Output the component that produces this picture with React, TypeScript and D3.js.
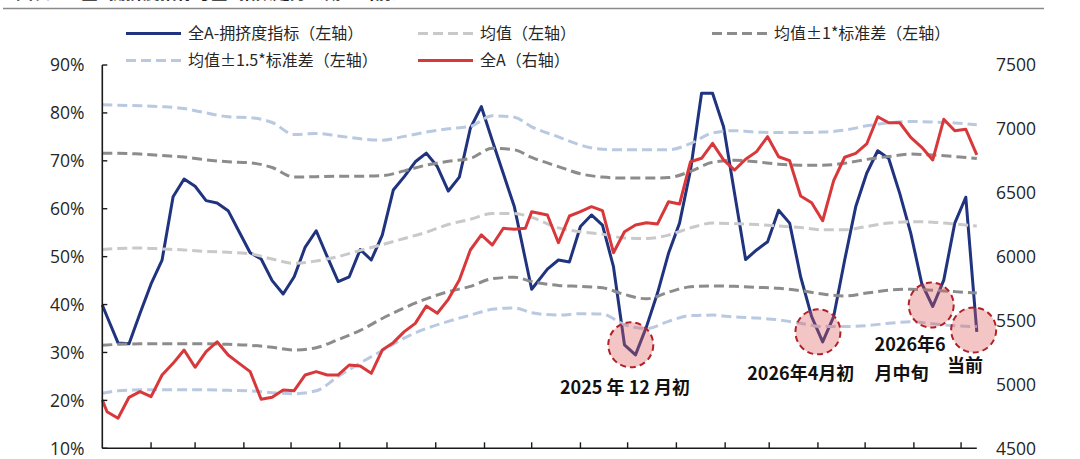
import React from "react";
import * as d3 from "d3";

// ---------- data ----------
const dates = [
  "2024-12-31","2025-01-03","2025-01-10","2025-01-17","2025-01-24","2025-01-31","2025-02-07","2025-02-14","2025-02-21","2025-02-28",
  "2025-03-07","2025-03-14","2025-03-21","2025-03-28","2025-04-04","2025-04-11","2025-04-18","2025-04-25","2025-05-02","2025-05-09",
  "2025-05-16","2025-05-23","2025-05-30","2025-06-06","2025-06-13","2025-06-20","2025-06-27","2025-07-04","2025-07-11","2025-07-18",
  "2025-07-25","2025-08-01","2025-08-08","2025-08-15","2025-08-22","2025-08-29","2025-09-05","2025-09-12","2025-09-19","2025-09-26",
  "2025-09-30","2025-10-10","2025-10-17","2025-10-24","2025-10-31","2025-11-07","2025-11-14","2025-11-21","2025-11-28","2025-12-05",
  "2025-12-12","2025-12-19","2025-12-26","2026-01-02","2026-01-09","2026-01-16","2026-01-23","2026-01-30","2026-02-06","2026-02-13",
  "2026-02-20","2026-02-27","2026-03-06","2026-03-13","2026-03-20","2026-03-27","2026-04-03","2026-04-10","2026-04-17","2026-04-24",
  "2026-05-01","2026-05-08","2026-05-15","2026-05-22","2026-05-29","2026-06-05","2026-06-12","2026-06-19","2026-06-26","2026-07-03",
  "2026-07-10",
];

// 全A-拥挤度指标 (%), left axis
const crowding = [
  39.9,37.5,32.0,31.8,38.2,44.3,49.3,62.5,66.2,64.7,
  61.7,61.2,59.6,55.2,50.8,49.5,45.0,42.2,45.8,52.0,
  55.4,50.0,44.8,45.8,51.5,49.3,54.5,63.9,66.7,69.8,
  71.6,68.8,63.7,66.6,76.8,81.3,74.2,67.3,60.4,49.4,
  43.2,47.4,49.3,48.9,56.3,58.7,56.6,47.9,31.6,29.5,
  35.4,42.4,50.7,57.0,68.1,84.1,84.1,77.1,63.2,49.4,
  51.4,53.1,59.7,57.0,45.8,37.5,32.2,37.5,49.3,60.4,
  67.4,72.1,70.5,63.2,54.9,44.4,39.6,45.1,57.0,62.4,
  34.3,
];

// 全A index, right axis
const indexA = [
  4878,4786,4735,4899,4943,4904,5074,5165,5269,5134,
  5256,5334,5230,5165,5100,4884,4899,4956,4951,5074,
  5100,5074,5074,5152,5144,5087,5269,5327,5413,5478,
  5614,5557,5666,5817,6052,6170,6091,6222,6214,6222,
  6352,6326,6109,6318,6352,6391,6360,6031,6195,6248,
  6266,6256,6430,6412,6743,6770,6887,6757,6678,6762,
  6822,6939,6782,6751,6475,6422,6281,6595,6778,6809,
  6882,7095,7048,7048,6934,6856,6757,7075,6986,6997,
  6796,
];

// band knots (every second date)
const bandDates = dates.filter((_, i) => i % 2 === 0);
const meanLine = [
  51.5,51.7,51.8,51.6,51.4,51.1,50.9,50.6,49.5,48.6,
  49.1,50.0,51.3,52.5,53.8,55.1,56.7,57.8,59.0,59.0,
  58.2,56.0,55.2,54.7,53.9,53.8,54.5,56.0,57.0,56.9,
  56.7,56.4,56.1,55.6,55.6,56.3,57.0,57.3,57.2,56.8,
  56.4,
];
const upper1 = [
  71.6,71.6,71.4,71.1,70.8,70.2,69.8,69.6,68.6,66.6,
  66.7,66.8,66.8,66.9,67.9,69.1,69.9,70.5,72.6,72.3,
  70.7,68.8,67.3,66.6,66.4,66.4,66.5,67.8,69.7,70.1,
  69.8,69.3,69.1,69.1,69.5,70.3,70.9,71.4,71.2,70.9,
  70.5,
];
const lower1 = [
  31.5,31.7,31.8,31.8,31.8,31.8,31.7,31.5,31.1,30.5,
  31.0,32.7,34.6,37.1,39.3,41.2,42.7,43.8,45.4,45.7,
  44.8,44.0,43.8,43.5,42.1,41.2,42.6,43.7,43.9,43.8,
  43.6,43.4,42.9,42.2,41.8,42.4,43.0,43.2,43.0,42.7,
  42.4,
];
const upper15 = [
  81.7,81.6,81.5,81.3,80.9,80.0,79.2,79.0,78.0,75.5,
  75.7,75.2,74.6,74.3,75.1,76.0,76.7,77.2,79.4,79.1,
  77.1,75.0,73.3,72.4,72.3,72.3,72.3,73.6,75.8,76.3,
  76.0,75.9,75.9,76.0,76.4,77.3,77.9,78.2,78.1,77.9,
  77.5,
];
const lower15 = [
  21.5,22.0,22.2,22.2,22.2,22.2,22.1,22.0,21.6,21.4,
  22.0,25.0,27.8,30.4,33.0,35.0,36.5,37.8,39.0,39.3,
  38.3,37.8,38.1,38.0,35.8,35.0,36.5,37.7,37.8,37.4,
  37.2,36.8,36.1,35.4,35.4,35.6,36.1,36.4,36.0,35.6,
  35.4,
];

const xTickDates = [
  "2025-01-31","2025-02-28","2025-03-31","2025-04-30","2025-05-31","2025-06-30",
  "2025-07-31","2025-08-31","2025-09-30","2025-10-31","2025-11-30","2025-12-31",
  "2026-01-31","2026-02-28","2026-03-31","2026-04-30","2026-05-31","2026-06-30",
];
const leftTicks = [10, 20, 30, 40, 50, 60, 70, 80, 90];
const rightTicks = [4500, 5000, 5500, 6000, 6500, 7000, 7500];

// highlighted lows
const circleDates = ["2025-12-02", "2026-03-31", "2026-06-11", "2026-07-08"];
const circleValues = [31.6, 34.3, 39.9, 34.7];

// annotation labels (anchor date / left-axis value of baseline)
const noteTexts = ["2025 年 12 月初", "2026年4月初", "2026年6", "月中旬", "当前"];
const noteDates = ["2025-10-18", "2026-02-14", "2026-05-06", "2026-05-06", "2026-06-21"];
const noteValues = [21.4, 24.3, 30.3, 24.3, 25.9];

const legendItems = [
  { label: "全A-拥挤度指标（左轴）", color: "#1F337F", dash: "", row: 0, col: 0 },
  { label: "均值（左轴）", color: "#C9C9C9", dash: "10,5", row: 0, col: 1 },
  { label: "均值±1*标准差（左轴）", color: "#8C8C8C", dash: "10,5", row: 0, col: 2 },
  { label: "均值±1.5*标准差（左轴）", color: "#B9C9E2", dash: "10,5", row: 1, col: 0 },
  { label: "全A（右轴）", color: "#D9383A", dash: "", row: 1, col: 1 },
];

// ---------- chart ----------
const W = 1080;
const H = 459;
const parse = d3.timeParse("%Y-%m-%d");
const CJK = "'Noto Sans CJK SC', 'Noto Sans', sans-serif";
const NUM = "'Open Sans', 'Noto Sans', sans-serif";

export default function App() {
  const dts = dates.map((d) => parse(d) as Date);
  const bds = bandDates.map((d) => parse(d) as Date);

  const x = d3.scaleTime().domain([dts[0], dts[dts.length - 1]]).range([102.3, 976.8]);
  const yL = d3.scaleLinear().domain([10, 90]).range([448.3, 65]);
  const yR = d3.scaleLinear().domain([4500, 7500]).range([448.3, 65]);

  const lineL = d3
    .line<[Date, number]>()
    .x((d) => x(d[0]))
    .y((d) => yL(d[1]));
  const lineR = d3
    .line<[Date, number]>()
    .x((d) => x(d[0]))
    .y((d) => yR(d[1]));
  const smoothL = d3
    .line<[Date, number]>()
    .x((d) => x(d[0]))
    .y((d) => yL(d[1]))
    .curve(d3.curveMonotoneX);

  const zip = (ds: Date[], vs: number[]) => ds.map((d, i) => [d, vs[i]] as [Date, number]);

  const bands = [
    { vals: meanLine, color: "#C9C9C9" },
    { vals: upper1, color: "#8C8C8C" },
    { vals: lower1, color: "#8C8C8C" },
    { vals: upper15, color: "#B9C9E2" },
    { vals: lower15, color: "#B9C9E2" },
  ];

  const pct = d3.format(".0f");
  const x0 = x.range()[0];
  const x1 = x.range()[1];
  const yBottom = yL(10);
  const yTop = yL(90);

  const legX = [126, 418, 712];
  const legY = [33.5, 60.5];

  return (
    <svg
      width={W}
      height={H}
      viewBox={`0 0 ${W} ${H}`}
      style={{ position: "absolute", left: 0, top: 0, background: "#fff", display: "block" }}
    >
      <rect x={0} y={0} width={W} height={H} fill="#ffffff" />

      {/* title (cropped at the top edge in the source) + header rule */}
      <text x={16} y={-1} fontFamily={CJK} fontSize={17} fontWeight={700} fill="#222">
        图表 1：全A拥挤度指标与全A指数走势（截至当前）
      </text>
      <line x1={3} x2={1044} y1={8.5} y2={8.5} stroke="#8a8a8a" strokeWidth={1.6} />

      {/* legend */}
      {legendItems.map((it, i) => (
        <g key={i} transform={`translate(${legX[it.col]},${legY[it.row]})`}>
          <line
            x1={0}
            x2={55}
            y1={0}
            y2={0}
            stroke={it.color}
            strokeWidth={3}
            strokeDasharray={it.dash || undefined}
          />
          <text x={62} y={0} dy="0.36em" fontFamily={CJK} fontSize={16} fill="#262626">
            {it.label}
          </text>
        </g>
      ))}

      {/* crowding line (bottom layer) */}
      <path
        d={lineL(zip(dts, crowding)) || ""}
        fill="none"
        stroke="#1F337F"
        strokeWidth={3}
        strokeLinejoin="round"
      />

      {/* bands */}
      {bands.map((b, i) => (
        <path
          key={i}
          d={smoothL(zip(bds, b.vals)) || ""}
          fill="none"
          stroke={b.color}
          strokeWidth={3}
          strokeDasharray="10,5"
        />
      ))}

      {/* index line */}
      <path
        d={lineR(zip(dts, indexA)) || ""}
        fill="none"
        stroke="#D9383A"
        strokeWidth={3}
        strokeLinejoin="round"
      />

      {/* axes */}
      <line x1={x0} x2={x0} y1={yTop} y2={yBottom} stroke="#1a1a1a" strokeWidth={1.6} />
      <line x1={x0} x2={x1} y1={yBottom} y2={yBottom} stroke="#1a1a1a" strokeWidth={1.6} />
      {leftTicks.map((t) => (
        <g key={t}>
          <line x1={x0} x2={x0 + 5} y1={yL(t)} y2={yL(t)} stroke="#1a1a1a" strokeWidth={1.4} />
          <text
            x={84.5}
            y={yL(t)}
            dy="0.36em"
            textAnchor="end"
            fontFamily={NUM}
            fontSize={17.5}
            fill="#262626"
          >
            {pct(t)}%
          </text>
        </g>
      ))}
      {rightTicks.map((t) => (
        <text
          key={t}
          x={996}
          y={yR(t)}
          dy="0.36em"
          textAnchor="start"
          fontFamily={NUM}
          fontSize={17.5}
          fill="#262626"
        >
          {t}
        </text>
      ))}
      {xTickDates.map((d) => {
        const xx = x(parse(d) as Date);
        return (
          <line key={d} x1={xx} x2={xx} y1={yBottom} y2={yBottom - 6} stroke="#1a1a1a" strokeWidth={1.4} />
        );
      })}

      {/* highlight circles */}
      {circleDates.map((d, i) => (
        <circle
          key={d}
          cx={x(parse(d) as Date)}
          cy={yL(circleValues[i])}
          r={22.5}
          fill="rgba(222,95,95,0.36)"
          stroke="#B22028"
          strokeWidth={2}
          strokeDasharray="6,4"
        />
      ))}

      {/* annotations */}
      {noteTexts.map((t, i) => (
        <text
          key={i}
          x={x(parse(noteDates[i]) as Date)}
          y={yL(noteValues[i])}
          fontFamily={CJK}
          fontSize={18}
          fontWeight={700}
          fill="#111"
        >
          {t}
        </text>
      ))}
    </svg>
  );
}
